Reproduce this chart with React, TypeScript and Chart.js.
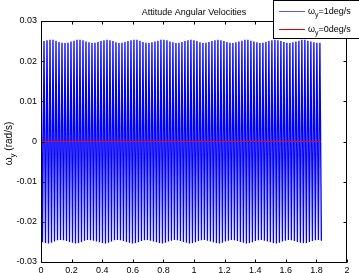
import React, { useEffect, useRef } from "react";
import { Chart, registerables } from "chart.js";

Chart.register(...registerables);

// ---- data ----
const chartTitle = "Attitude Angular Velocities";
const xTickValues = [0, 0.2, 0.4, 0.6, 0.8, 1, 1.2, 1.4, 1.6, 1.8, 2];
const xTickLabels = ["0", "0.2", "0.4", "0.6", "0.8", "1", "1.2", "1.4", "1.6", "1.8", "2"];
const yTickValues = [-0.03, -0.02, -0.01, 0, 0.01, 0.02, 0.03];
const yTickLabels = ["-0.03", "-0.02", "-0.01", "0", "0.01", "0.02", "0.03"];

// time between successive peaks of the ω_y = 1 deg/s response (s)
const peakTimeStep = 0.0098;
// successive peak values of ω_y (rad/s), ω_y = 1 deg/s case
const omega1Peaks = [
  0.0247, -0.0251, 0.025, -0.0253, 0.0252, -0.0254, 0.0253, -0.0252, 0.0253, -0.0249,
  0.0251, -0.0246, 0.0248, -0.0245, 0.0246, -0.0246, 0.0245, -0.0248, 0.0246, -0.025,
  0.0249, -0.0252, 0.0251, -0.0254, 0.0253, -0.0253, 0.0253, -0.025, 0.0252, -0.0247,
  0.0249, -0.0245, 0.0247, -0.0246, 0.0245, -0.0247, 0.0246, -0.0249, 0.0248, -0.0251,
  0.025, -0.0253, 0.0252, -0.0254, 0.0253, -0.0252, 0.0252, -0.0249, 0.025, -0.0246,
  0.0247, -0.0245, 0.0245, -0.0246, 0.0246, -0.0248, 0.0248, -0.025, 0.025, -0.0252,
  0.0252, -0.0254, 0.0253, -0.0253, 0.0253, -0.0251, 0.0251, -0.0248, 0.0248, -0.0246,
  0.0246, -0.0245, 0.0245, -0.0247, 0.0247, -0.0249, 0.0249, -0.0251, 0.0251, -0.0253,
  0.0253, -0.0254, 0.0253, -0.0252, 0.0252, -0.0249, 0.0249, -0.0247, 0.0247, -0.0245,
  0.0245, -0.0246, 0.0246, -0.0248, 0.0248, -0.025, 0.025, -0.0252, 0.0252, -0.0254,
  0.0253, -0.0253, 0.0252, -0.0251, 0.025, -0.0248, 0.0247, -0.0246, 0.0245, -0.0245,
  0.0246, -0.0247, 0.0248, -0.0249, 0.025, -0.0251, 0.0252, -0.0253, 0.0253, -0.0254,
  0.0252, -0.0252, 0.025, -0.0249, 0.0248, -0.0247, 0.0246, -0.0245, 0.0245, -0.0246,
  0.0247, -0.0248, 0.0249, -0.025, 0.0251, -0.0252, 0.0253, -0.0254, 0.0253, -0.0253,
  0.0251, -0.0251, 0.0249, -0.0248, 0.0247, -0.0246, 0.0245, -0.0245, 0.0246, -0.0247,
  0.0248, -0.0249, 0.025, -0.0251, 0.0252, -0.0253, 0.0253, -0.0254, 0.0252, -0.0252,
  0.025, -0.0249, 0.0248, -0.0247, 0.0246, -0.0245, 0.0245, -0.0246, 0.0247, -0.0248,
  0.0249, -0.025, 0.0251, -0.0252, 0.0253, -0.0253, 0.0253, -0.0253, 0.0251, -0.025,
  0.0249, -0.0248, 0.0247, -0.0246, 0.0246, -0.0245, 0.0246, -0.0247,
];
// ω_y = 0 deg/s case
const omega0Times = [0, 1.83];
const omega0Values = [0, 0];

const legendLabels = [
  { sym: "ω", sub: "y", rest: "=1deg/s", color: "#5a5ad2" },
  { sym: "ω", sub: "y", rest: "=0deg/s", color: "#e00000" },
];

const FONT = "'Liberation Sans', Arial, Helvetica, sans-serif";

function drawSubText(ctx: CanvasRenderingContext2D, x: number, y: number, sym: string, sub: string, rest: string, align: "left" | "center", size = 9) {
  const subSize = Math.round(size * 0.78);
  ctx.font = `${size}px ${FONT}`;
  const w1 = ctx.measureText(sym).width;
  const w3 = ctx.measureText(rest).width;
  ctx.font = `${subSize}px ${FONT}`;
  const w2 = ctx.measureText(sub).width;
  const total = w1 + w2 + w3;
  let sx = align === "center" ? x - total / 2 : x;
  ctx.textAlign = "left";
  ctx.textBaseline = "alphabetic";
  ctx.font = `${size}px ${FONT}`;
  ctx.fillText(sym, sx, y);
  sx += w1;
  ctx.font = `${subSize}px ${FONT}`;
  ctx.fillText(sub, sx, y + size / 3);
  sx += w2;
  ctx.font = `${size}px ${FONT}`;
  ctx.fillText(rest, sx, y);
}

const decorPlugin = {
  id: "matlabDecor",
  afterDraw(chart: any) {
    const ctx: CanvasRenderingContext2D = chart.ctx;
    const { left, right, top, bottom } = chart.chartArea;
    const xs = chart.scales.x;
    const ys = chart.scales.y;
    ctx.save();
    ctx.strokeStyle = "#000";
    ctx.lineWidth = 1;
    const L = Math.round(left) + 0.5;
    const R = Math.round(right) - 0.5;
    const T = Math.round(top) + 0.5;
    const B = Math.round(bottom) + 0.5;
    ctx.strokeRect(L, T, R - L, B - T);
    ctx.beginPath();
    const tl = 3;
    xTickValues.forEach((v) => {
      const px = Math.round(xs.getPixelForValue(v)) + 0.5;
      ctx.moveTo(px, B);
      ctx.lineTo(px, B - tl);
      ctx.moveTo(px, T);
      ctx.lineTo(px, T + tl);
    });
    yTickValues.forEach((v) => {
      const py = Math.round(ys.getPixelForValue(v)) + 0.5;
      ctx.moveTo(L, py);
      ctx.lineTo(L + tl, py);
      ctx.moveTo(R, py);
      ctx.lineTo(R - tl, py);
    });
    ctx.stroke();

    // title
    ctx.fillStyle = "#000";
    ctx.font = `9px ${FONT}`;
    ctx.textAlign = "center";
    ctx.textBaseline = "alphabetic";
    ctx.fillText(chartTitle, (left + right) / 2, 15);

    // y label
    ctx.save();
    ctx.translate(11.5, (top + bottom) / 2 + 2);
    ctx.rotate(-Math.PI / 2);
    drawSubText(ctx, 0, 0, "ω", "y", " (rad/s)", "center", 10);
    ctx.restore();

    // legend
    const bx = 273.5, by = 0.5, bw = 100, bh = 38;
    ctx.fillStyle = "#fff";
    ctx.fillRect(bx, by, bw, bh);
    ctx.strokeStyle = "#000";
    ctx.strokeRect(bx, by, bw, bh);
    legendLabels.forEach((item, i) => {
      const ly = Math.round(11 + i * 17.5);
      ctx.fillStyle = item.color;
      ctx.fillRect(279, ly, 26, 1);
      ctx.fillStyle = "#000";
      drawSubText(ctx, 308, ly + 3, item.sym, item.sub, item.rest, "left", 9);
    });
    ctx.restore();
  },
};

export default function App() {
  const ref = useRef<HTMLCanvasElement | null>(null);
  useEffect(() => {
    if (!ref.current) return;
    const blue = omega1Peaks.map((v, i) => ({ x: i * peakTimeStep, y: v }));
    const red = omega0Times.map((t, i) => ({ x: t, y: omega0Values[i] }));
    const chart = new Chart(ref.current, {
      type: "line",
      data: {
        datasets: [
          { label: "ω_y=0deg/s", data: red, borderColor: "#ff0000", borderWidth: 1, pointRadius: 0, tension: 0, fill: false },
          { label: "ω_y=1deg/s", data: blue, borderColor: "#0000ff", borderWidth: 1.3, pointRadius: 0, tension: 0, fill: false },
        ],
      },
      options: {
        animation: false,
        responsive: false,
        devicePixelRatio: 1,
        events: [],
        layout: { padding: { top: 21, right: 12, left: 0, bottom: 0 } },
        plugins: { legend: { display: false }, title: { display: false }, tooltip: { enabled: false } },
        scales: {
          x: {
            type: "linear",
            min: 0,
            max: 2,
            grid: { display: false, drawTicks: false },
            border: { display: false },
            afterBuildTicks: (s: any) => { s.ticks = xTickValues.map((v) => ({ value: v })); },
            afterFit: (s: any) => { s.height = 11; },
            ticks: {
              padding: 3,
              autoSkip: false,
              maxRotation: 0,
              color: "#000",
              font: { family: FONT, size: 9 },
              callback: (_v: any, i: number) => xTickLabels[i],
            },
          },
          y: {
            type: "linear",
            min: -0.03,
            max: 0.03,
            grid: { display: false, drawTicks: false },
            border: { display: false },
            afterBuildTicks: (s: any) => { s.ticks = yTickValues.map((v) => ({ value: v })); },
            afterFit: (s: any) => { s.width = 41; },
            ticks: {
              padding: 4,
              autoSkip: false,
              color: "#000",
              font: { family: FONT, size: 9 },
              callback: (_v: any, i: number) => yTickLabels[i],
            },
          },
        },
      },
      plugins: [decorPlugin],
    });
    return () => chart.destroy();
  }, []);
  return (
    <div style={{ position: "absolute", left: 0, top: 0, width: 359, height: 273, background: "#fff" }}>
      <canvas ref={ref} width={359} height={273} style={{ display: "block" }} />
    </div>
  );
}
